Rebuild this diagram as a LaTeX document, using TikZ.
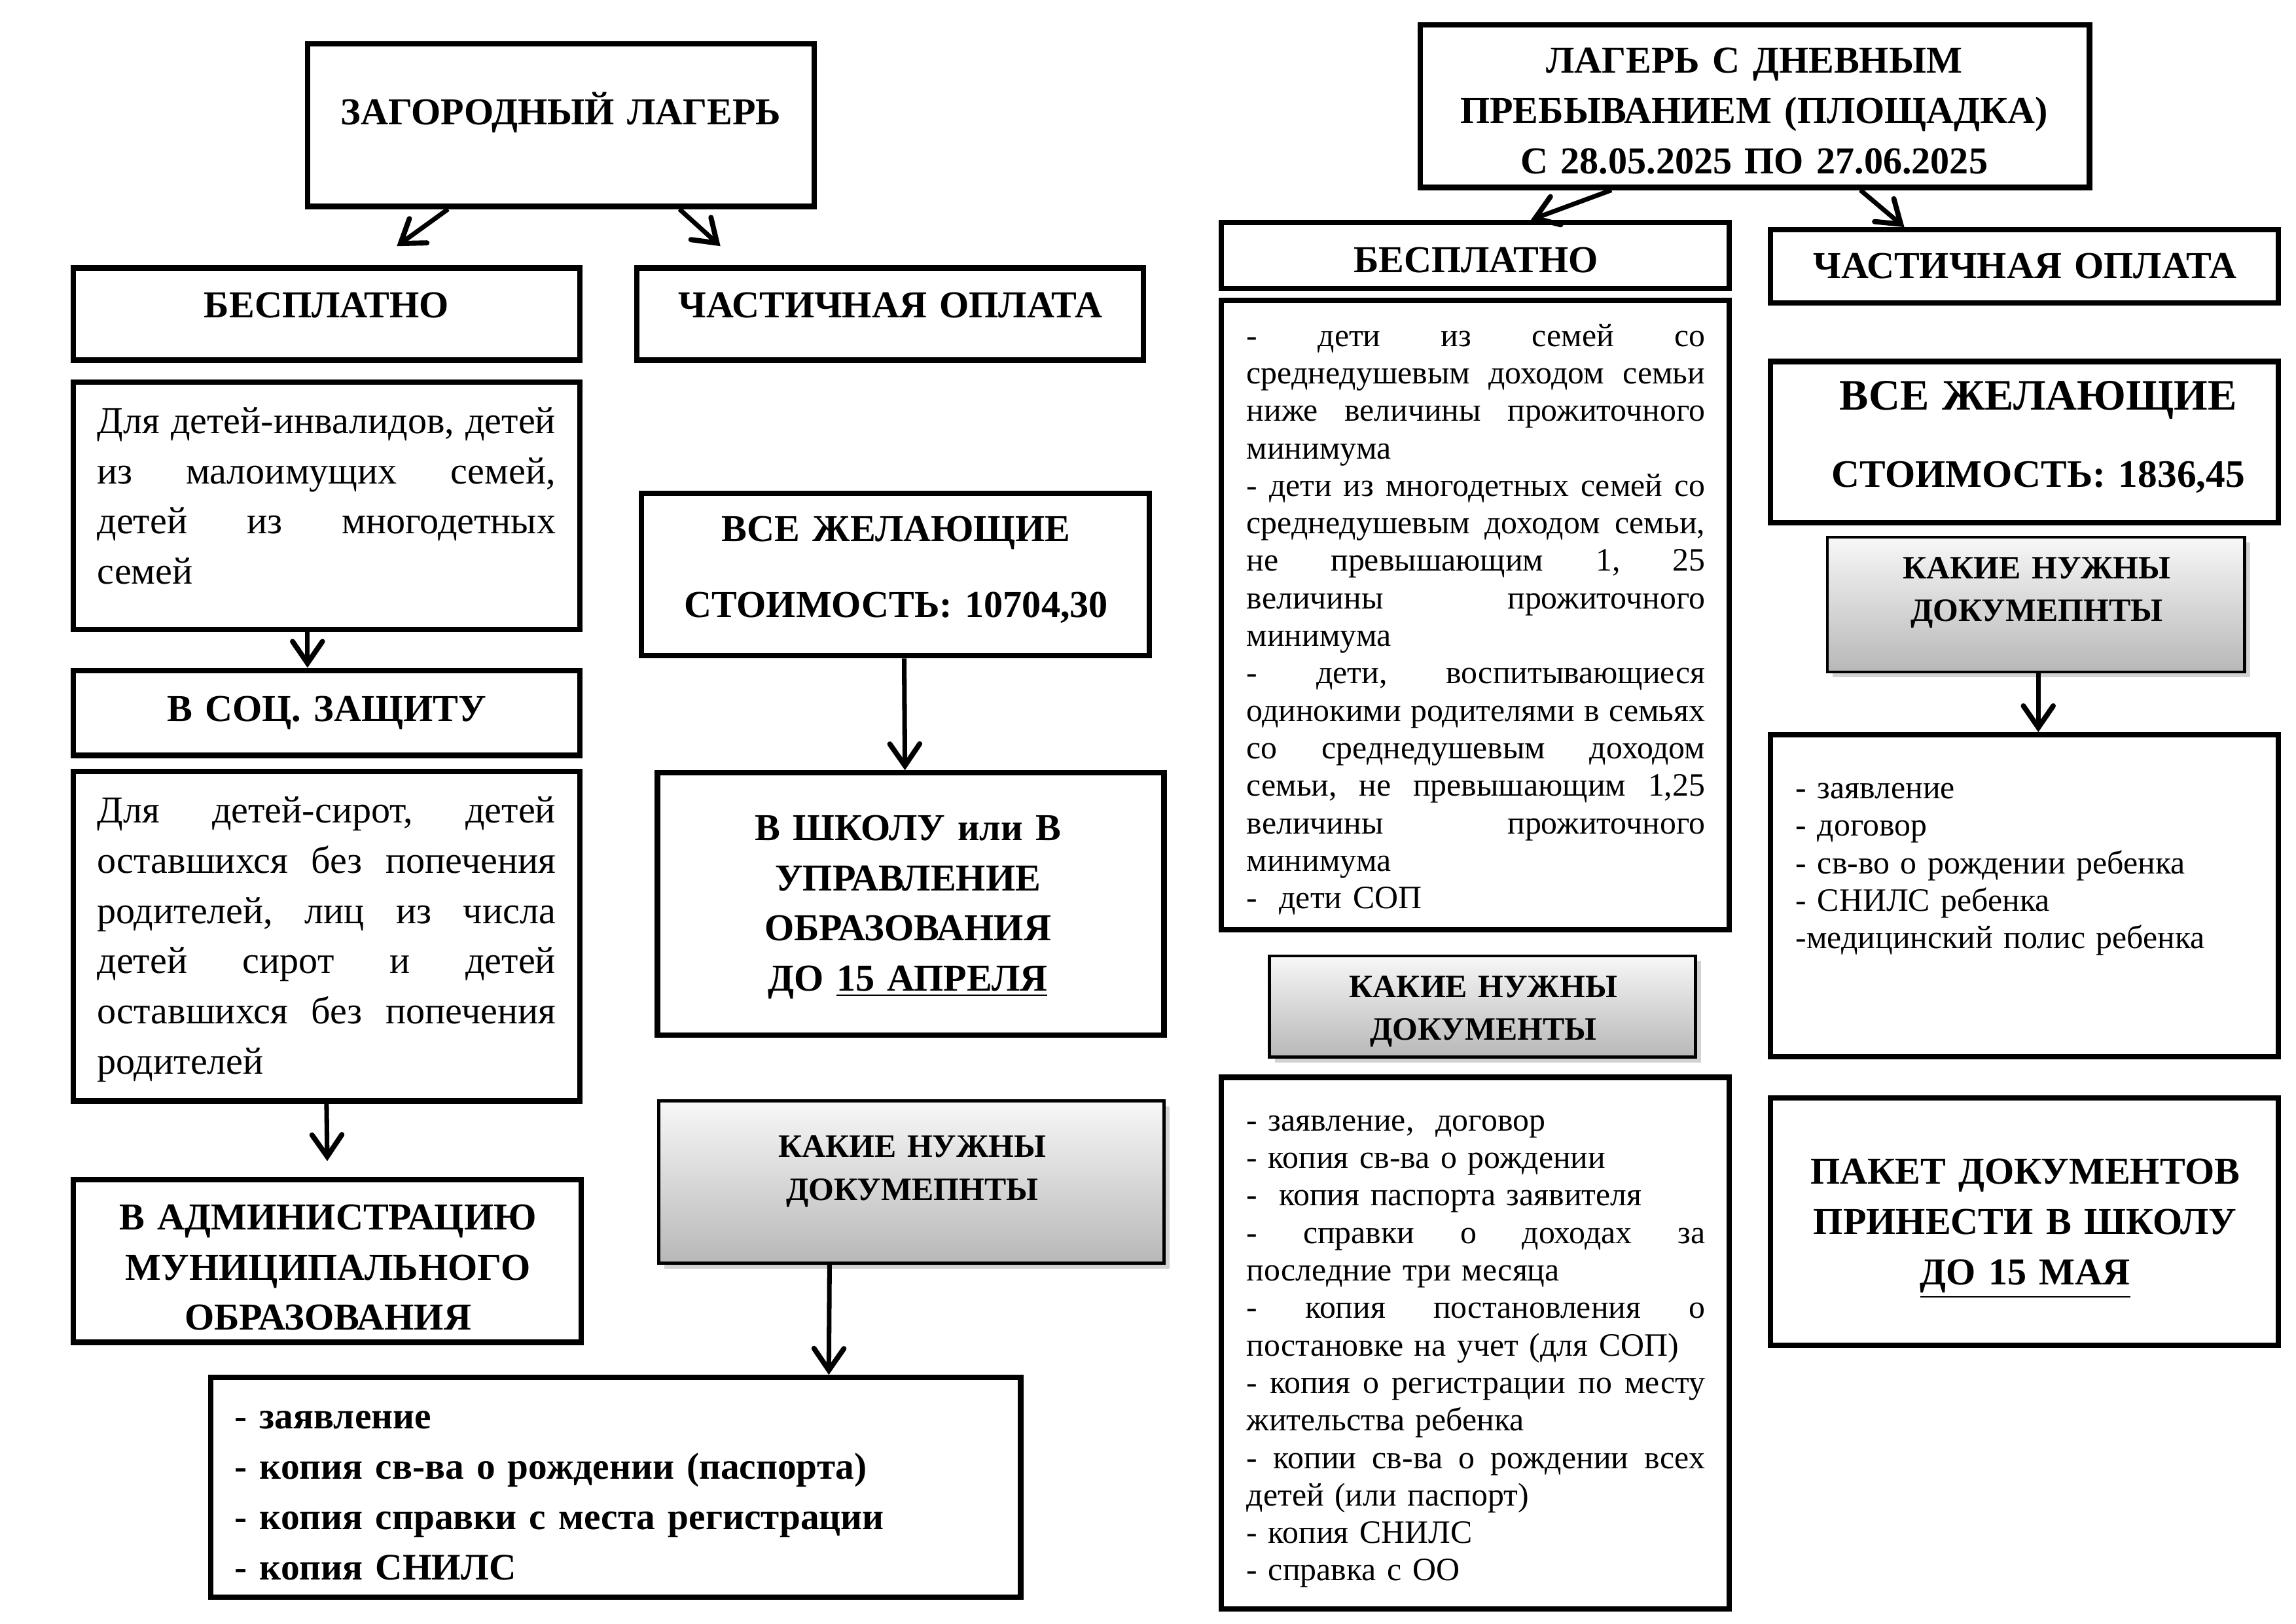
\documentclass[tikz,border=0pt]{standalone}
\usepackage{fontspec}
\setmainfont{Liberation Serif}
\usetikzlibrary{fit,calc,arrows.meta,shadows}
\newlength\jw
\setlength\jw{168.7pt}
\newcommand{\jl}[1]{\leavevmode\hbox to\jw{\frenchspacing\spaceskip=0.25em plus 1fil\relax #1}}
\begin{document}
\begin{tikzpicture}[x=0.0189413cm, y=-0.0189413cm,
  box/.style={draw, line width=2pt, inner sep=0pt},
  gbox/.style={draw, line width=1.1pt, inner sep=0pt, top color=black!3, bottom color=black!28,
    drop shadow={shadow xshift=2pt, shadow yshift=-2pt, opacity=0.35}},
  arr/.style={line width=1.7pt, -{Straight Barb[length=8pt,width=11pt,line cap=round,line width=1.9pt]}},
  hb/.style={font=\bfseries\fontsize{14}{18.5}\selectfont, align=center, text width=260pt, inner sep=0pt, anchor=base},
  kn/.style={font=\bfseries\fontsize{12}{15.8}\selectfont, align=center, text width=200pt, inner sep=0pt, anchor=base},
  pl/.style={font=\fontsize{14}{18.5}\selectfont, align=left, text width=168.7pt, inner sep=0pt, anchor=base west},
  sm/.style={font=\fontsize{12}{13.8}\selectfont, align=left, text width=168.7pt, inner sep=0pt, anchor=base west},
  blist/.style={font=\bfseries\fontsize{13.8}{18.5}\selectfont, align=left, text width=280pt, inner sep=0pt, anchor=base west}
]
\useasboundingbox (0,0) rectangle (1568,1109);
\fill[white] (0,0) rectangle (1568,1109);

% ---------- left part ----------
\node[box, fit={(210,30) (556,141)}] (zl) {};
\node[hb] (zlt) at (383,85) {ЗАГОРОДНЫЙ ЛАГЕРЬ};

\node[box, fit={(50,183) (396,246)}] (b1) {};
\node[hb] (b1t) at (223,217) {БЕСПЛАТНО};
\node[box, fit={(435,183) (781,246)}] (c1) {};
\node[hb] (c1t) at (608,217) {ЧАСТИЧНАЯ ОПЛАТА};

\node[box, fit={(50,261) (396,430)}] (inv) {};
\node[pl] (invt) at (66,296) {\jl{Для детей-инвалидов, детей}\\\jl{из малоимущих семей,}\\\jl{детей из многодетных}\\семей};

\node[box, fit={(50,458) (396,516)}] (soc) {};
\node[hb] (soct) at (223,493) {В СОЦ. ЗАЩИТУ};

\node[box, fit={(50,527) (396,752)}] (sir) {};
\node[pl] (sirt) at (66,562) {\jl{Для детей-сирот, детей}\\\jl{оставшихся без попечения}\\\jl{родителей, лиц из числа}\\\jl{детей сирот и детей}\\\jl{оставшихся без попечения}\\родителей};

\node[box, fit={(50,806) (397,917)}] (adm) {};
\node[hb] (admt) at (224,840) {В АДМИНИСТРАЦИЮ\\МУНИЦИПАЛЬНОГО\\ОБРАЗОВАНИЯ};

\node[box, fit={(438,337) (785,448)}] (vz1) {};
\node[hb, font=\bfseries\fontsize{14}{27.9}\selectfont] (vz1t) at (612,370) {ВСЕ ЖЕЛАЮЩИЕ\\СТОИМОСТЬ: 10704,30};

\node[box, fit={(449,528) (795,707)}] (shk) {};
\node[hb] (shkt) at (620,574) {В ШКОЛУ или В\\УПРАВЛЕНИЕ\\ОБРАЗОВАНИЯ\\ДО \underline{15 АПРЕЛЯ}};

\node[gbox, fit={(450,752) (795,863)}] (kn1) {};
\node[kn] (kn1t) at (623,790.5) {КАКИЕ НУЖНЫ\\ДОКУМЕПНТЫ};

\node[box, fit={(144,941) (697,1091)}] (ld) {};
\node[blist] (ldt) at (160,976) {- заявление\\- копия св-ва о рождении (паспорта)\\- копия справки с места регистрации\\- копия СНИЛС};

% ---------- right part ----------
\node[box, fit={(970,17) (1427,128)}] (dl) {};
\node[hb] (dlt) at (1198,50) {ЛАГЕРЬ С ДНЕВНЫМ\\ПРЕБЫВАНИЕМ (ПЛОЩАДКА)\\С 28.05.2025 ПО 27.06.2025};

\node[box, fit={(834,152) (1181,197)}] (b2) {};
\node[hb] (b2t) at (1008,186) {БЕСПЛАТНО};
\node[box, fit={(1209,157) (1556,207)}] (c2) {};
\node[hb] (c2t) at (1383,190) {ЧАСТИЧНАЯ ОПЛАТА};

\node[box, fit={(834,205) (1181,635)}] (fr) {};
\node[sm] (frt) at (851,236.5) {\jl{- дети из семей со}\\\jl{среднедушевым доходом семьи}\\\jl{ниже величины прожиточного}\\минимума\\\jl{- дети из многодетных семей со}\\\jl{среднедушевым доходом семьи,}\\\jl{не превышающим 1, 25}\\\jl{величины прожиточного}\\минимума\\\jl{- дети, воспитывающиеся}\\\jl{одинокими родителями в семьях}\\\jl{со среднедушевым доходом}\\\jl{семьи, не превышающим 1,25}\\\jl{величины прожиточного}\\минимума\\-~ дети СОП};

\node[gbox, fit={(867,653) (1158,722)}] (kn2) {};
\node[kn, font=\bfseries\fontsize{12}{15.6}\selectfont] (kn2t) at (1013,681.5) {КАКИЕ НУЖНЫ\\ДОКУМЕНТЫ};

\node[box, fit={(834,736) (1181,1099)}] (md) {};
\node[sm] (mdt) at (851,772.5) {- заявление,~ договор\\- копия св-ва о рождении\\-~ копия паспорта заявителя\\\jl{- справки о доходах за}\\последние три месяца\\\jl{- копия постановления о}\\постановке на учет (для СОП)\\\jl{- копия о регистрации по месту}\\жительства ребенка\\\jl{- копии св-ва о рождении всех}\\детей (или паспорт)\\- копия СНИЛС\\- справка с ОО};

\node[box, fit={(1209,247) (1556,357)}] (vz2) {};
\node[hb, font=\bfseries\fontsize{14.3}{28.5}\selectfont] (vz2t) at (1392,280) {{\fontsize{16}{28.5}\selectfont ВСЕ ЖЕЛАЮЩИЕ}\\СТОИМОСТЬ: 1836,45};

\node[gbox, fit={(1248,367) (1533,459)}] (kn3) {};
\node[kn, font=\bfseries\fontsize{12}{15.6}\selectfont] (kn3t) at (1391,395.5) {КАКИЕ НУЖНЫ\\ДОКУМЕПНТЫ};

\node[box, fit={(1209,502) (1556,722)}] (rd) {};
\node[sm] (rdt) at (1226,545.5) {- заявление\\- договор\\- св-во о рождении ребенка\\- СНИЛС ребенка\\-медицинский полис ребенка};

\node[box, fit={(1209,750) (1556,919)}] (pk) {};
\node[hb] (pkt) at (1383,809) {ПАКЕТ ДОКУМЕНТОВ\\ПРИНЕСТИ В ШКОЛУ\\\underline{ДО 15 МАЯ}};

% ---------- connectors ----------
\draw[arr] ($(zl.south)+(-77,0)$) -- ($(b1.north)+(48,-13)$);
\draw[arr] ($(zl.south)+(81,0)$) -- ($(c1.north)+(-116,-13)$);
\draw[arr] ($(dl.south)+(-98,0)$) -- ($(b2.north)+(38,0)$);
\draw[arr] ($(dl.south)+(72,0)$) -- ($(c2.north)+(-82,0)$);
\draw[arr] ($(inv.south)+(-13,0)$) -- ($(soc.north)+(-13,0)$);
\draw[arr] (sir.south) -- ($(adm.north)+(0,-11)$);
\draw[arr] ($(vz1.south)+(6,0)$) -- ($(shk.north)+(-4,0)$);
\draw[arr] ($(kn1.south)+(-56,0)$) -- ($(ld.north)+(145.5,0)$);
\draw[arr] ($(kn3.south)+(1.5,0)$) -- ($(rd.north)+(9.5,0)$);
\end{tikzpicture}
\end{document}
